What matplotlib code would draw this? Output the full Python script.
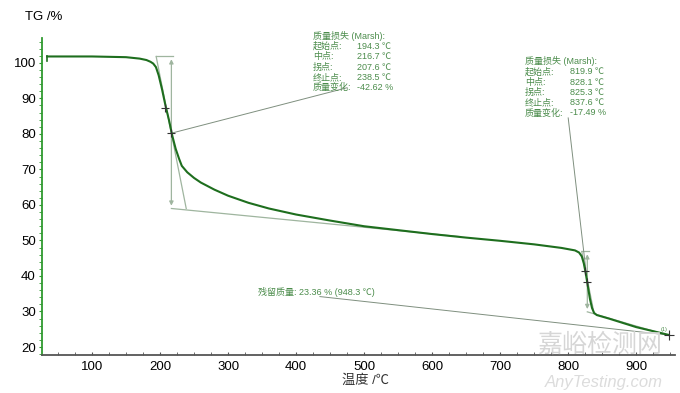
import matplotlib
matplotlib.use('Agg')
import matplotlib.pyplot as plt
from matplotlib.ticker import MultipleLocator
import numpy as np

plt.rcParams['font.family'] = ['Liberation Sans', 'Noto Sans CJK SC', 'DejaVu Sans']

# TG curve
temp = [34, 100, 150, 170, 180, 186, 190, 194, 198, 203, 208, 213, 218, 223, 228, 232,
        240, 250, 260, 280, 300, 330, 360, 400, 450, 500, 550, 600, 650, 700, 750, 790,
        810, 816, 820, 823, 826, 829, 832, 835, 838, 842, 860, 900, 948]
tg = [101.8, 101.8, 101.6, 101.2, 100.8, 100.3, 99.8, 98.8, 96.5, 92.5, 88.0, 84.0, 79.5,
      75.8, 73.0, 71.0, 69.2, 67.6, 66.3, 64.3, 62.6, 60.6, 59.0, 57.3, 55.6, 54.0, 52.9,
      51.8, 50.8, 49.9, 48.9, 47.9, 47.2, 46.6, 45.5, 43.5, 40.5, 37.0, 33.5, 31.0, 29.6,
      29.0, 28.0, 25.6, 23.4]

# step evaluation (Marsh)
step1 = {'onset': 194.3, 'mid': 216.7, 'infl': 207.6, 'end': 238.5, 'change': -42.62,
         'top': 101.8, 'bottom': 59.0, 'mid_val': 80.2, 'infl_val': 87.2}
step2 = {'onset': 819.9, 'mid': 828.1, 'infl': 825.3, 'end': 837.6, 'change': -17.49,
         'top': 46.9, 'bottom': 29.9, 'mid_val': 38.2, 'infl_val': 41.4}
residual_temp = 948.3
residual_val = 23.36

green = '#1e6e1e'
axis_green = '#2f9a2f'
txt_green = '#4b8c4b'
guide = '#9fb59f'

fig = plt.figure(figsize=(6.8, 3.93), dpi=100)
ax = fig.add_axes([42 / 680, 1 - 355 / 393, (675 - 42) / 680, (355 - 38) / 393])
ax.set_xlim(26.5, 957)
ax.set_ylim(17.75, 107.0)

# guide lines, step 1
s = step1
ax.plot([s['onset'], s['mid'] + 2], [s['top'], s['top']], color=guide, lw=0.9)
ax.annotate('', xy=(s['mid'], s['top']), xytext=(s['mid'], s['bottom']),
            arrowprops=dict(arrowstyle='<|-|>', color=guide, lw=0.9, mutation_scale=6))
ax.plot([s['onset'], s['end']], [s['top'], s['bottom']], color=guide, lw=0.9)
ax.plot([s['mid'], 640], [s['bottom'], 51.1], color=guide, lw=0.9)
ax.plot([s['mid'], 475], [s['mid_val'], 93.0], color='#7f8f7f', lw=0.7)

# guide lines, step 2
s = step2
ax.plot([s['onset'], s['mid'] + 3], [s['top'], s['top']], color=guide, lw=0.9)
ax.annotate('', xy=(s['mid'], s['top']), xytext=(s['mid'], s['bottom']),
            arrowprops=dict(arrowstyle='<|-|>', color=guide, lw=0.9, mutation_scale=6))
ax.plot([s['onset'], s['end']], [s['top'], s['bottom']], color=guide, lw=0.9)
ax.plot([s['mid'], residual_temp], [s['bottom'], 23.2], color=guide, lw=0.9)
ax.plot([s['mid'], 800], [s['mid_val'], 84.5], color='#7f8f7f', lw=0.7)

# residual leader
ax.plot([435, residual_temp], [34.2, residual_val], color='#7f8f7f', lw=0.7)

# curve
ax.plot(temp, tg, color=green, lw=1.5, zorder=5)
ax.plot([temp[0], temp[0]], [tg[0], tg[0] - 1.2], color=green, lw=1.2, zorder=5)

# cross marks
for s in (step1, step2):
    ax.plot([s['mid'], s['infl']], [s['mid_val'], s['infl_val']], '+', color='#333333',
            ms=6, mew=0.8, zorder=6)
ax.plot([residual_temp], [residual_val], '+', color='#333333', ms=7, mew=0.8, zorder=6)
ax.text(residual_temp - 3, residual_val + 1.0, '(1)', color=txt_green, fontsize=4,
        ha='right', va='bottom')

# annotation texts
labels = ['起始点:', '中点:', '拐点:', '终止点:', '质量变化:']


def block(s, x_lab, x_val, y_top, dy):
    vals = ['%.1f ℃' % s['onset'], '%.1f ℃' % s['mid'], '%.1f ℃' % s['infl'],
            '%.1f ℃' % s['end'], '%.2f %%' % s['change']]
    ax.text(x_lab, y_top, '质量损失 (Marsh):', color=txt_green, fontsize=6.5,
            va='center', clip_on=False)
    for i, (lab, v) in enumerate(zip(labels, vals)):
        y = y_top - dy * (i + 1)
        ax.text(x_lab, y, lab, color=txt_green, fontsize=6.5, va='center', clip_on=False)
        ax.text(x_val, y, v, color=txt_green, fontsize=6.5, va='center', clip_on=False)


block(step1, 425, 489, 107.6, 2.93)
block(step2, 736, 803, 100.4, 2.9)

ax.text(344, 35.5, '残留质量: %.2f %% (%.1f ℃)' % (residual_val, residual_temp),
        color=txt_green, fontsize=6.5, va='center')

# axes styling
for side in ('top', 'right'):
    ax.spines[side].set_visible(False)
ax.spines['left'].set_color(axis_green)
ax.spines['left'].set_linewidth(1.3)
ax.spines['bottom'].set_color('#555555')
ax.spines['bottom'].set_linewidth(1.3)

ax.xaxis.set_major_locator(MultipleLocator(100))
ax.xaxis.set_minor_locator(MultipleLocator(25))
ax.yaxis.set_major_locator(MultipleLocator(10))
ax.yaxis.set_minor_locator(MultipleLocator(2))
ax.set_yticks(range(20, 101, 10))
ax.set_xticks(range(100, 901, 100))
ax.tick_params(axis='x', which='both', direction='in', length=2.5, color='#555555',
               labelsize=9.5, pad=4)
ax.tick_params(axis='y', which='both', direction='out', length=2.5, color=axis_green,
               labelsize=9.5, pad=2)

fig.text(25 / 680, 1 - 17 / 393, 'TG /%', fontsize=9.5, va='center')
fig.text(365 / 680, 1 - 381 / 393, '温度 /℃', fontsize=9.5, va='center', ha='center',
         color='#333333')

# watermark
fig.text(600 / 680, 1 - 345 / 393, '嘉峪检测网', fontsize=18, color='#d6d6d6',
         ha='center', va='center', zorder=0)
fig.text(604 / 680, 1 - 382 / 393, 'AnyTesting.com', fontsize=12, color='#dcdcdc',
         ha='center', va='center', style='italic', zorder=0)

fig.savefig('out.png', dpi=100)
